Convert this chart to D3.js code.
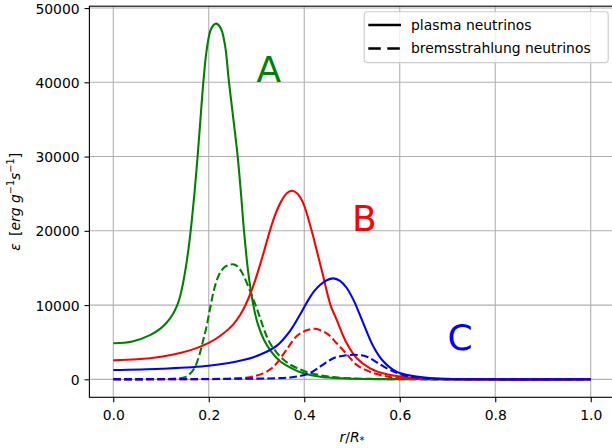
<!DOCTYPE html>
<html>
<head>
<meta charset="utf-8">
<script src="https://cdn.jsdelivr.net/npm/d3@7"></script>
<style>
  html, body { margin: 0; padding: 0; background: #fff; }
  svg { display: block; }
  text { font-family: "DejaVu Sans", sans-serif; }
</style>
</head>
<body>
<svg id="chart" width="612" height="448"></svg>
<script>
// Emissivity profiles, [r/R*, epsilon] pairs, for the three models A, B, C.
const plasmaA = [[0,4850],[0.04,5100],[0.077,5950],[0.1,6900],[0.112,7650],[0.124,8700],[0.134,10000],[0.14,11200],[0.146,12900],[0.152,15100],[0.158,17800],[0.164,21100],[0.17,25000],[0.176,29500],[0.182,34500],[0.1886,40000],[0.196,44500],[0.205,47200],[0.215,47900],[0.225,47300],[0.234,45000],[0.2424,40000],[0.252,34800],[0.2606,30000],[0.2675,25000],[0.2738,20000],[0.2825,14500],[0.2933,10000],[0.303,7400],[0.315,5400],[0.33,3800],[0.35,2400],[0.37,1600],[0.39,1000],[0.433,350],[0.49,120],[0.55,30],[0.65,0],[1.0,0]];
const bremsA = [[0,0],[0.08,0],[0.12,60],[0.14,150],[0.15,300],[0.16,700],[0.17,1500],[0.18,3200],[0.188,5200],[0.195,7000],[0.2026,9500],[0.21,11800],[0.2166,13300],[0.225,14500],[0.235,15200],[0.244,15430],[0.253,15470],[0.262,15100],[0.272,14100],[0.2864,11900],[0.3003,9600],[0.31,7800],[0.32,6000],[0.33,4700],[0.349,3100],[0.37,2000],[0.391,1350],[0.41,900],[0.433,550],[0.46,300],[0.5,130],[0.56,40],[0.65,0],[1.0,0]];
const plasmaB = [[0,2550],[0.05,2700],[0.1,3050],[0.14,3550],[0.17,4100],[0.2,4900],[0.225,5900],[0.25,7300],[0.265,8600],[0.277,10000],[0.29,12000],[0.303,14500],[0.316,17300],[0.328,20000],[0.34,22300],[0.352,24000],[0.364,25100],[0.375,25400],[0.386,25000],[0.398,23700],[0.4155,20000],[0.426,17400],[0.44,13800],[0.455,10000],[0.468,8000],[0.489,4850],[0.51,2830],[0.538,1480],[0.573,670],[0.615,270],[0.663,80],[0.72,10],[1.0,0]];
const bremsB = [[0,0],[0.2,10],[0.25,100],[0.286,280],[0.314,800],[0.33,1400],[0.342,2150],[0.363,4000],[0.384,5800],[0.405,6600],[0.4225,6800],[0.447,6200],[0.468,4850],[0.489,3400],[0.51,1950],[0.538,1000],[0.573,380],[0.61,120],[0.66,20],[0.7,0],[1.0,0]];
const plasmaC = [[0,1250],[0.1,1430],[0.2,1830],[0.272,2600],[0.307,3300],[0.342,4500],[0.37,6500],[0.391,8700],[0.405,10300],[0.42,11800],[0.433,12700],[0.447,13350],[0.461,13600],[0.475,13250],[0.489,12300],[0.503,10700],[0.508,10000],[0.524,7500],[0.545,4400],[0.566,2400],[0.594,1000],[0.628,440],[0.663,170],[0.712,40],[0.8,0],[1.0,0]];
const bremsC = [[0,30],[0.2,50],[0.3,100],[0.342,150],[0.37,250],[0.391,450],[0.412,850],[0.433,1700],[0.448,2350],[0.461,2850],[0.48,3150],[0.506,3300],[0.531,3050],[0.559,2000],[0.587,1050],[0.615,450],[0.656,130],[0.7,30],[0.8,0],[1.0,0]];

const models = ["A", "B", "C"];
const modelColors = ["green", "red", "blue"];
const modelLabelPos = [[0.3, 40000], [0.5, 20000], [0.7, 4000]];
const xTicks = [0.0, 0.2, 0.4, 0.6, 0.8, 1.0];
const yTicks = [0, 10000, 20000, 30000, 40000, 50000];
const legendLabels = ["plasma neutrinos", "bremsstrahlung neutrinos"];

const series = [
  { data: plasmaA, model: 0, dashed: false },
  { data: bremsA,  model: 0, dashed: true },
  { data: plasmaB, model: 1, dashed: false },
  { data: bremsB,  model: 1, dashed: true },
  { data: plasmaC, model: 2, dashed: false },
  { data: bremsC,  model: 2, dashed: true }
];

const svg = d3.select("#chart");
const L = 89.4, R = 614.6, T = 6.2, B = 397.3;
const fs = 13.9;

const x = d3.scaleLinear().domain([-0.05, 1.05]).range([L, R]);
const y = d3.scaleLinear().domain([-2420, 50250]).range([B, T]);

svg.append("defs").append("clipPath").attr("id", "plotclip")
  .append("rect").attr("x", L).attr("y", T).attr("width", R - L).attr("height", B - T);

// grid
const grid = svg.append("g").attr("stroke", "#b0b0b0").attr("stroke-width", 1.1);
grid.selectAll("line.gx").data(xTicks).join("line")
  .attr("x1", d => x(d)).attr("x2", d => x(d)).attr("y1", T).attr("y2", B);
grid.selectAll("line.gy").data(yTicks).join("line")
  .attr("x1", L).attr("x2", R).attr("y1", d => y(d)).attr("y2", d => y(d));

// curves
const line = d3.line().x(d => x(d[0])).y(d => y(Math.max(0, d[1])))
  .curve(d3.curveCatmullRom.alpha(0.5));
const plot = svg.append("g").attr("clip-path", "url(#plotclip)");
plot.selectAll("path").data(series).join("path")
  .attr("d", d => line(d.data))
  .attr("fill", "none")
  .attr("stroke", d => modelColors[d.model])
  .attr("stroke-width", 2.08)
  .attr("stroke-dasharray", d => d.dashed ? "7.7,3.3" : null);

// model labels
svg.selectAll("text.model").data(models).join("text")
  .attr("class", "model")
  .attr("x", (d, i) => x(modelLabelPos[i][0]))
  .attr("y", (d, i) => y(modelLabelPos[i][1]))
  .attr("fill", (d, i) => modelColors[i])
  .attr("font-size", 36)
  .text(d => d);

// axes
const xAxis = svg.append("g").attr("transform", `translate(0,${B})`)
  .call(d3.axisBottom(x).tickValues(xTicks).tickFormat(d3.format(".1f")).tickSize(4.9).tickPadding(4.9).tickSizeOuter(0));
const yAxis = svg.append("g").attr("transform", `translate(${L},0)`)
  .call(d3.axisLeft(y).tickValues(yTicks).tickFormat(d => String(d)).tickSize(4.9).tickPadding(4.9).tickSizeOuter(0));
[xAxis, yAxis].forEach(g => {
  g.select(".domain").remove();
  g.selectAll(".tick line").attr("stroke", "#000").attr("stroke-width", 1.1);
  g.selectAll(".tick text").attr("font-family", "DejaVu Sans").attr("font-size", fs).attr("fill", "#000");
});
xAxis.selectAll(".tick text").attr("dy", null).attr("y", 23);
yAxis.selectAll(".tick text").attr("dy", "0.36em");

// spines
svg.append("rect").attr("x", L).attr("y", T).attr("width", R - L).attr("height", B - T)
  .attr("fill", "none").attr("stroke", "#000").attr("stroke-width", 1.1);

// axis labels
const xl = svg.append("text").attr("x", (L + R) / 2).attr("y", 441.5)
  .attr("text-anchor", "middle").attr("font-size", fs);
xl.append("tspan").attr("font-style", "italic").text("r");
xl.append("tspan").text("/");
xl.append("tspan").attr("font-style", "italic").text("R");
xl.append("tspan").attr("font-size", fs * 0.7).attr("dy", 2.5).text("*");

const yl = svg.append("text")
  .attr("transform", `translate(19.5,${(T + B) / 2}) rotate(-90)`)
  .attr("text-anchor", "middle").attr("font-size", fs);
yl.append("tspan").attr("font-style", "italic").text("ε");
yl.append("tspan").attr("xml:space", "preserve").text("\u2009 [");
yl.append("tspan").attr("font-style", "italic").text("erg g");
yl.append("tspan").attr("font-size", fs * 0.7).attr("dy", -5.5).text("\u22121");
yl.append("tspan").attr("font-style", "italic").attr("dy", 5.5).text("s");
yl.append("tspan").attr("font-size", fs * 0.7).attr("dy", -5.5).text("\u22121");
yl.append("tspan").attr("dy", 5.5).text("]");

// legend
const lg = svg.append("g");
lg.append("rect").attr("x", 364.2).attr("y", 11.8).attr("width", 244).attr("height", 50.8)
  .attr("rx", 3).attr("fill", "#fff").attr("fill-opacity", 0.8)
  .attr("stroke", "#cccccc").attr("stroke-width", 1.1);
legendLabels.forEach((lab, i) => {
  const ly = 25 + i * 23.4;
  lg.append("line").attr("x1", 368.3).attr("x2", 401).attr("y1", ly).attr("y2", ly)
    .attr("stroke", "#000").attr("stroke-width", 2.5)
    .attr("stroke-dasharray", i === 1 ? "12.5,6.5" : null);
  lg.append("text").attr("x", 411).attr("y", ly + 4.9).attr("font-size", fs).text(lab);
});
</script>
</body>
</html>
